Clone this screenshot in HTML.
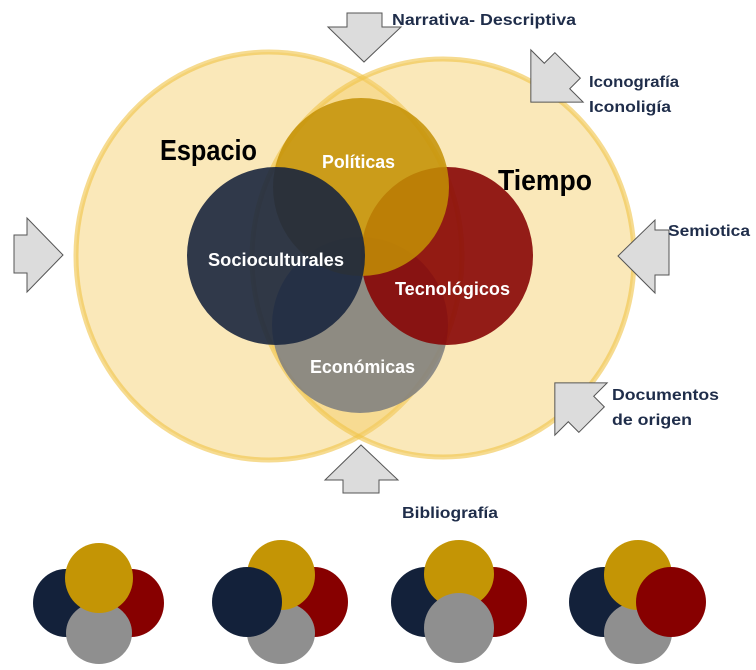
<!DOCTYPE html>
<html><head><meta charset="utf-8"><style>
body{margin:0;background:#fff;}
svg{display:block}
text{font-family:"Liberation Sans Narrow","Liberation Sans",sans-serif;font-weight:bold}
</style></head><body>
<svg width="756" height="670" viewBox="0 0 756 670" xmlns="http://www.w3.org/2000/svg">
<ellipse cx="269" cy="256" rx="193" ry="204" fill="rgba(245,205,100,0.45)" stroke="rgba(240,195,70,0.6)" stroke-width="5"/>
<ellipse cx="443" cy="258" rx="191" ry="199" fill="rgba(245,205,100,0.45)" stroke="rgba(240,195,70,0.6)" stroke-width="5"/>
<ellipse cx="360" cy="325" rx="88" ry="88" fill="rgba(128,128,128,0.88)"/>
<ellipse cx="447" cy="256" rx="86" ry="89" fill="rgba(135,5,5,0.9)"/>
<ellipse cx="361" cy="187" rx="88" ry="89" fill="rgba(195,145,5,0.85)"/>
<ellipse cx="276" cy="256" rx="89" ry="89" fill="rgba(25,38,62,0.9)"/>
<text x="322" y="168" fill="#fff" font-size="18" textLength="73" lengthAdjust="spacingAndGlyphs">Políticas</text>
<text x="208" y="266" fill="#fff" font-size="18" textLength="136" lengthAdjust="spacingAndGlyphs">Socioculturales</text>
<text x="395" y="295" fill="#fff" font-size="18" textLength="115" lengthAdjust="spacingAndGlyphs">Tecnológicos</text>
<text x="310" y="373" fill="#fff" font-size="18" textLength="105" lengthAdjust="spacingAndGlyphs">Económicas</text>
<text x="160" y="160" fill="#000" font-size="29" textLength="97" lengthAdjust="spacingAndGlyphs">Espacio</text>
<text x="498" y="190" fill="#000" font-size="29" textLength="94" lengthAdjust="spacingAndGlyphs">Tiempo</text>
<g fill="#dcdcdc" stroke="#555" stroke-width="1">
<polygon points="347,13 382,13 382,27 401,27 364,62 328,27 347,27"/>
<polygon points="14,235 27,235 27,218 63,255 27,292 27,273 14,273"/>
<polygon points="669,230 655,230 655,220 618,256 655,293 655,275 669,275"/>
<polygon points="343,493 379,493 379,480 398,480 361,445 325,480 343,480"/>
<g transform="translate(557,76) rotate(135)"><polygon points="-15,-18 0,-18 0,-37 37,0 0,37 0,18 -15,18"/></g>
<g transform="translate(581,409) rotate(-135)"><polygon points="-15,-18 0,-18 0,-37 37,0 0,37 0,18 -15,18"/></g>
</g>
<g fill="#1f2d4a" font-size="16">
<text x="392" y="25" textLength="184" lengthAdjust="spacingAndGlyphs">Narrativa- Descriptiva</text>
<text x="589" y="87" textLength="90" lengthAdjust="spacingAndGlyphs">Iconografía</text>
<text x="589" y="112" textLength="82" lengthAdjust="spacingAndGlyphs">Iconoligía</text>
<text x="668" y="236" textLength="82" lengthAdjust="spacingAndGlyphs">Semiotica</text>
<text x="612" y="400" textLength="107" lengthAdjust="spacingAndGlyphs">Documentos</text>
<text x="612" y="425" textLength="80" lengthAdjust="spacingAndGlyphs">de origen</text>
<text x="402" y="518" textLength="96" lengthAdjust="spacingAndGlyphs">Bibliografía</text>
</g>
<g>
<ellipse cx="131" cy="603" rx="33" ry="34" fill="#870000"/>
<ellipse cx="66" cy="603" rx="33" ry="34" fill="#13213a"/>
<ellipse cx="99" cy="633" rx="33" ry="31" fill="#8f8f8f"/>
<ellipse cx="99" cy="578" rx="34" ry="35" fill="#c49505"/>
</g>
<g>
<ellipse cx="314" cy="602" rx="34" ry="35" fill="#870000"/>
<ellipse cx="281" cy="633" rx="34" ry="31" fill="#8f8f8f"/>
<ellipse cx="281" cy="575" rx="34" ry="35" fill="#c49505"/>
<ellipse cx="247" cy="602" rx="35" ry="35" fill="#13213a"/>
</g>
<g>
<ellipse cx="493" cy="602" rx="34" ry="35" fill="#870000"/>
<ellipse cx="426" cy="602" rx="35" ry="35" fill="#13213a"/>
<ellipse cx="459" cy="574" rx="35" ry="34" fill="#c49505"/>
<ellipse cx="459" cy="628" rx="35" ry="35" fill="#8f8f8f"/>
</g>
<g>
<ellipse cx="604" cy="602" rx="35" ry="35" fill="#13213a"/>
<ellipse cx="638" cy="633" rx="34" ry="31" fill="#8f8f8f"/>
<ellipse cx="638" cy="575" rx="34" ry="35" fill="#c49505"/>
<ellipse cx="671" cy="602" rx="35" ry="35" fill="#870000"/>
</g>
</svg>
</body></html>
